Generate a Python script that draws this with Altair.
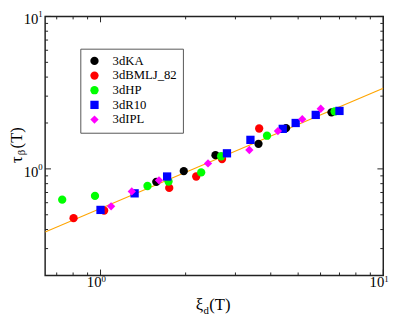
import altair as alt
import pandas as pd

# ---------------- data ----------------
names = ["3dKA", "3dBMLJ_82", "3dHP", "3dR10", "3dIPL"]
colors = ["#000000", "#ff0000", "#00ff00", "#0000ff", "#ff00ff"]
shapes = ["circle", "circle", "circle", "square", "diamond"]
sizes = [72, 72, 72, 56, 72]

ka_x = [1.575, 1.97, 2.55, 3.62, 4.53, 6.56]
ka_y = [0.822, 0.967, 1.23, 1.46, 1.85, 2.35]

bmlj_x = [0.803, 1.03, 1.75, 2.18, 2.69, 3.64]
bmlj_y = [0.475, 0.533, 0.75, 0.891, 1.16, 1.84]

hp_x = [0.732, 0.956, 1.466, 1.74, 2.27, 2.67, 3.88, 6.73]
hp_y = [0.628, 0.665, 0.772, 0.826, 0.948, 1.21, 1.65, 2.38]

r10_x = [1.0, 1.32, 1.72, 2.8, 3.39, 4.41, 4.9, 5.77, 7.0]
r10_y = [0.538, 0.691, 0.891, 1.265, 1.55, 1.83, 2.0, 2.26, 2.40]

ipl_x = [1.09, 1.29, 1.61, 2.40, 3.36, 4.24, 5.17, 6.01]
ipl_y = [0.568, 0.711, 0.841, 1.085, 1.33, 1.77, 2.12, 2.48]

fit_x = [0.637, 10.0]
fit_y = [0.385, 3.38]

x_domain = [0.637, 10.0]
y_domain = [0.2, 10.0]

x_major = [1, 10]
x_minor = [0.7, 0.8, 0.9, 2, 3, 4, 5, 6, 7, 8, 9]
y_major = [1, 10]
y_minor = [0.3, 0.4, 0.5, 0.6, 0.7, 0.8, 0.9, 2, 3, 4, 5, 6, 7, 8, 9]
label_vals = [1, 10]
label_base = ["10", "10"]
label_exp = ["0", "1"]

# ---------------- build ----------------
W, H = 346, 265
FONT = "Liberation Serif"

rows = []
for nm, xs_, ys_ in zip(names, [ka_x, bmlj_x, hp_x, r10_x, ipl_x],
                        [ka_y, bmlj_y, hp_y, r10_y, ipl_y]):
    for a, b in zip(xs_, ys_):
        rows.append({"series": nm, "x": a, "y": b})
df = pd.DataFrame(rows)

xsc = alt.Scale(type="log", domain=x_domain, nice=False)
ysc = alt.Scale(type="log", domain=y_domain, nice=False)

leg = alt.Legend(title=None, orient="none", legendX=36, legendY=33)

fit = alt.Chart(pd.DataFrame({"x": fit_x, "y": fit_y})).mark_line(
    color="#ffa500", strokeWidth=1.2, clip=True
).encode(
    x=alt.X("x:Q", scale=xsc, axis=None),
    y=alt.Y("y:Q", scale=ysc, axis=None),
)

points = alt.Chart(df).mark_point(filled=True, opacity=1, strokeWidth=0).encode(
    x=alt.X("x:Q", scale=xsc, axis=None),
    y=alt.Y("y:Q", scale=ysc, axis=None),
    color=alt.Color("series:N", scale=alt.Scale(domain=names, range=colors), legend=leg),
    shape=alt.Shape("series:N", scale=alt.Scale(domain=names, range=shapes), legend=leg),
    size=alt.Size("series:N", scale=alt.Scale(domain=names, range=sizes), legend=None),
)


def xticks(vals, y0, y1):
    return alt.Chart(pd.DataFrame({"v": vals})).mark_rule(color="#222222", strokeWidth=1).encode(
        x=alt.X("v:Q", scale=xsc, axis=None), y=alt.value(y0), y2=alt.value(y1))


def yticks(vals, x0, x1):
    return alt.Chart(pd.DataFrame({"v": vals})).mark_rule(color="#222222", strokeWidth=1).encode(
        y=alt.Y("v:Q", scale=ysc, axis=None), x=alt.value(x0), x2=alt.value(x1))


ticks = [
    xticks(x_major, H, H - 6), xticks(x_minor, H, H - 3),
    xticks(x_major, 0, 6), xticks(x_minor, 0, 3),
    yticks(y_major, 0, 6), yticks(y_minor, 0, 3),
    yticks(y_major, W, W - 6), yticks(y_minor, W, W - 3),
]

ldf = pd.DataFrame({"v": label_vals, "b": label_base, "e": label_exp})
xl_base = alt.Chart(ldf).mark_text(font=FONT, fontSize=15, align="right", baseline="alphabetic", dx=1).encode(
    x=alt.X("v:Q", scale=xsc, axis=None), y=alt.value(H + 12), text="b:N")
xl_exp = alt.Chart(ldf).mark_text(font=FONT, fontSize=9, align="left", baseline="alphabetic", dx=1).encode(
    x=alt.X("v:Q", scale=xsc, axis=None), y=alt.value(H + 7), text="e:N")
yl_base = alt.Chart(ldf).mark_text(font=FONT, fontSize=15, align="right", baseline="alphabetic", dy=8).encode(
    y=alt.Y("v:Q", scale=ysc, axis=None), x=alt.value(-7), text="b:N")
yl_exp = alt.Chart(ldf).mark_text(font=FONT, fontSize=9, align="left", baseline="alphabetic", dy=1).encode(
    y=alt.Y("v:Q", scale=ysc, axis=None), x=alt.value(-7), text="e:N")


def txt(s, x, y, size, angle=0):
    return alt.Chart(pd.DataFrame({"t": [s]})).mark_text(
        font=FONT, fontSize=size, align="left", baseline="alphabetic", angle=angle
    ).encode(text="t:N", x=alt.value(x), y=alt.value(y))


titles = [
    txt("ξ", 154, 300, 17), txt("d", 162, 304, 11), txt("(T)", 168, 300, 17),
    txt("τ", -24, 150, 17, 270), txt("β", -21, 142, 11, 270), txt("(T)", -24, 135, 17, 270),
]

chart = alt.layer(
    fit, points, *ticks, xl_base, xl_exp, yl_base, yl_exp, *titles
).properties(
    width=W, height=H,
    autosize=alt.AutoSizeParams(type="none"),
    padding={"left": 38, "top": 5, "right": 12, "bottom": 43},
).configure_view(
    stroke="#222222", strokeWidth=1.5
).configure_legend(
    strokeColor="#555555", fillColor="white", padding=6,
    labelFont=FONT, labelFontSize=13, labelColor="black",
    symbolSize=100, symbolStrokeWidth=0, rowPadding=1, labelOffset=12,
    symbolOffset=2, labelLimit=200,
)

chart.save("out.html", embed_options={"renderer": "svg", "actions": False})
